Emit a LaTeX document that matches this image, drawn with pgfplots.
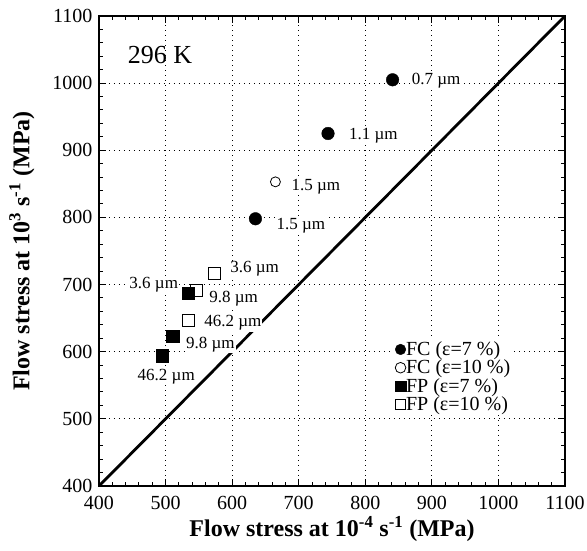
\documentclass[border=0pt]{standalone}
\usepackage{fontspec}
\setmainfont{Liberation Serif}
\usepackage{pgfplots}
\pgfplotsset{compat=1.18}
\begin{document}
\begin{tikzpicture}
\path[use as bounding box] (0,0) rectangle (587pt,551pt);
\begin{axis}[
  at={(99pt,65pt)}, anchor=south west,
  scale only axis, width=466pt, height=470pt,
  xmin=400, xmax=1100, ymin=400, ymax=1100,
  xtick={400,500,...,1100}, ytick={400,500,...,1100},
  minor tick num=4,
  tick align=inside,
  major tick length=7pt, minor tick length=4pt,
  every tick/.style={black, line width=1pt},
  axis line style={line width=2.4pt},
  grid=major,
  major grid style={black, line width=0.8pt, dash pattern=on 0.8pt off 4.2pt},
  /pgf/number format/assume math mode=true,
  /pgf/number format/1000 sep={},
  tick label style={font=\fontsize{20}{24}\selectfont},
  xticklabel style={yshift=-6.5pt},
  yticklabel style={xshift=-3pt},
  xlabel={\textbf{Flow stress at 10\textsuperscript{-4} s\textsuperscript{-1} (MPa)}},
  ylabel={\textbf{Flow stress at 10\textsuperscript{3} s\textsuperscript{-1} (MPa)}},
  label style={font=\fontsize{24}{28}\selectfont},
  xlabel style={yshift=0pt},
  ylabel style={yshift=11pt},
  legend style={draw=none, fill=white, at={(0.631,0.312)}, anchor=north west,
    font=\fontsize{20}{24}\selectfont, row sep=2.5pt, inner sep=2pt,
    nodes={inner sep=0.2pt},
    /tikz/every even column/.append style={column sep=4.5pt}},
  legend cell align=left,
  legend image code/.code={\draw[#1, mark size=5.3pt] plot coordinates {(0pt,0pt)};},
]
\addplot[forget plot, black, line width=2.8pt] coordinates {(400,400) (1100,1100)};

\addplot[only marks, mark=*, mark size=6.3pt, black] coordinates {
(841,1005) (744,925) (635,798)};
\addlegendentry{FC (ε=7 \%)}
\addplot[only marks, mark=o, mark size=5pt, black, mark options={line width=0.8pt}] coordinates {
(665,853)};
\addlegendentry{FC (ε=10 \%)}
\addplot[only marks, mark=square*, mark size=6.3pt, black] coordinates {
(534,687) (511,623) (495,594)};
\addlegendentry{FP (ε=7 \%)}
\addplot[only marks, mark=square, mark size=5.8pt, black, mark options={line width=0.8pt}] coordinates {
(573,717) (546,691) (534,647)};
\addlegendentry{FP (ε=10 \%)}

\begin{scope}[every node/.style={font=\fontsize{17}{20}\selectfont, fill=white, inner sep=1pt}]
\node[anchor=west, xshift=18pt, yshift=-1pt] at (axis cs:841,1005) {0.7 µm};
\node[anchor=west, xshift=20pt, yshift=-2pt] at (axis cs:744,925) {1.1 µm};
\node[anchor=west, xshift=15pt, yshift=-5pt] at (axis cs:665,853) {1.5 µm};
\node[anchor=west, xshift=20pt, yshift=-7pt] at (axis cs:635,798) {1.5 µm};
\node[anchor=west, xshift=15pt, yshift=4pt] at (axis cs:573,717) {3.6 µm};
\node[anchor=east, xshift=-9pt, yshift=9pt] at (axis cs:534,687) {3.6 µm};
\node[anchor=west, xshift=12pt, yshift=-8pt] at (axis cs:546,691) {9.8 µm};
\node[anchor=west, xshift=15pt, yshift=-3pt] at (axis cs:534,647) {46.2 µm};
\node[anchor=west, xshift=12pt, yshift=-8pt] at (axis cs:511,623) {9.8 µm};
\node[anchor=center, xshift=4pt, yshift=-21pt] at (axis cs:495,594) {46.2 µm};
\end{scope}
\node[anchor=west, font=\fontsize{26}{30}\selectfont, inner sep=0pt] at (axis cs:443,1042) {296 K};
\end{axis}
\end{tikzpicture}
\end{document}
